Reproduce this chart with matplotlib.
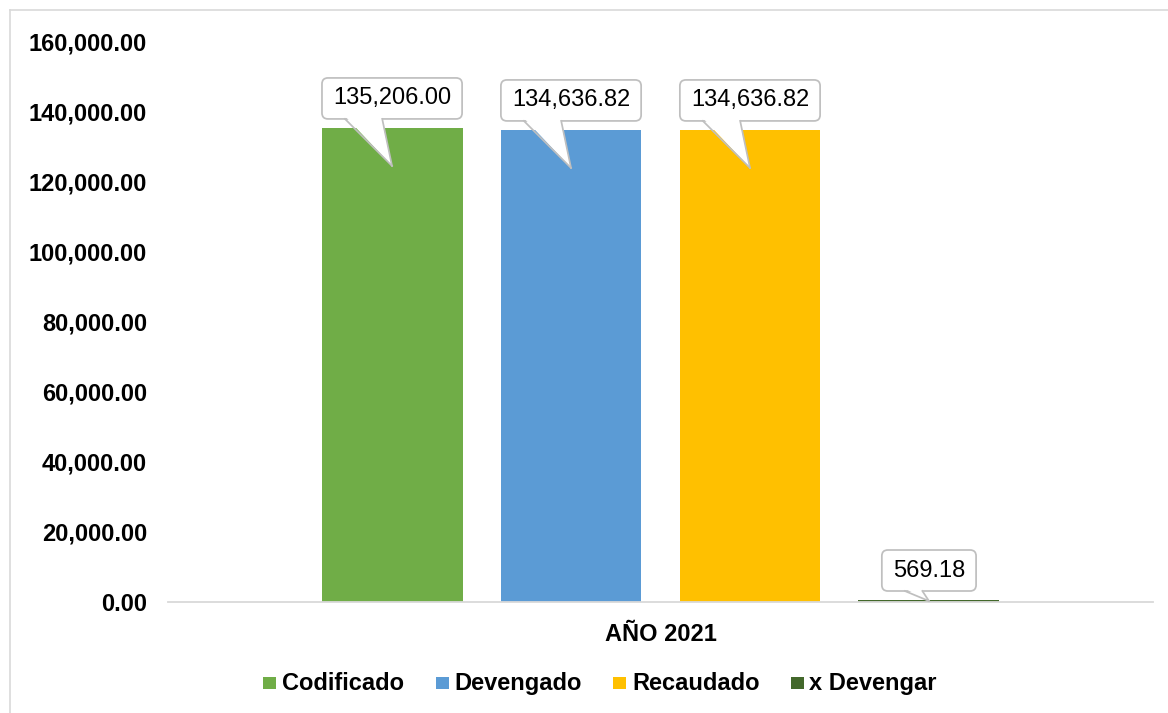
import matplotlib
matplotlib.use("Agg")
import matplotlib.pyplot as plt
from matplotlib.patches import FancyBboxPatch, Polygon, Rectangle
from matplotlib.transforms import IdentityTransform
from matplotlib.lines import Line2D
from matplotlib.ticker import FuncFormatter

categories = ["AÑO 2021"]
series = ["Codificado", "Devengado", "Recaudado", "x Devengar"]
values = [135206.00, 134636.82, 134636.82, 569.18]
colors = ["#70AD47", "#5B9BD5", "#FFC000", "#43682B"]
yticks = [0, 20000, 40000, 60000, 80000, 100000, 120000, 140000, 160000]

plt.rcParams['font.family'] = ['Liberation Sans', 'DejaVu Sans']

W, H = 1168, 713
fig = plt.figure(figsize=(W / 100, H / 100), dpi=100)
ax = fig.add_axes([168 / W, 1 - 602 / H, (1153 - 168) / W, (602 - 41) / H])

bw = 0.1431
step = 0.1817
xs = [(i - 1.5) * step for i in range(len(series))]
for x, v, c, s in zip(xs, values, colors, series):
    ax.bar(x, v, width=bw, color=c, label=s, zorder=2)

ax.set_xlim(-0.5, 0.5)
ax.set_ylim(0, 160000)
ax.set_yticks(yticks)
ax.yaxis.set_major_formatter(FuncFormatter(lambda v, p: f"{v:,.2f}"))
ax.set_xticks([0])
ax.set_xticklabels(categories)
for sp in ["top", "right", "left"]:
    ax.spines[sp].set_visible(False)
ax.spines["bottom"].set_color("#D9D9D9")
ax.spines["bottom"].set_linewidth(1.3)
ax.spines["bottom"].set_zorder(3)
ax.tick_params(axis="y", length=0, pad=15, labelsize=17)
ax.tick_params(axis="x", length=0, pad=15, labelsize=17)
for lbl in ax.get_yticklabels() + ax.get_xticklabels():
    lbl.set_fontweight("bold")
    lbl.set_color("black")

# legend (manual placement to match reference)
sq_left = [263, 436, 613, 791]
txt_left = [282, 454, 632, 809]
baseline = H - 690
for sl, tl, c, s in zip(sq_left, txt_left, colors, series):
    fig.add_artist(Rectangle((sl, baseline + 1), 13, 12, transform=IdentityTransform(),
                             facecolor=c, edgecolor="none"))
    fig.text(tl / W, baseline / H, s, ha="left", va="baseline", fontsize=17,
             fontweight="bold", color="black")

# outer chart border (top and left visible)
fig.add_artist(Line2D([10, W + 5], [H - 10, H - 10], transform=IdentityTransform(),
                      color="#D9D9D9", lw=1.2))
fig.add_artist(Line2D([10, 10], [-5, H - 10], transform=IdentityTransform(),
                      color="#D9D9D9", lw=1.2))

fig.canvas.draw()
renderer = fig.canvas.get_renderer()
base_y = ax.transData.transform((0, 0))[1]
edge = "#BFBFBF"
for x, v in zip(xs, values):
    cx, top = ax.transData.transform((x, v))
    bottom = top + 9
    bh = 41
    t = ax.text(cx, bottom + bh / 2, f"{v:,.2f}", transform=IdentityTransform(),
                ha="center", va="center", fontsize=17, color="black", zorder=7,
                clip_on=False)
    tw = t.get_window_extent(renderer).width
    w = tw + 22
    left = cx - w / 2
    box = FancyBboxPatch((left, bottom), w, bh, boxstyle="round,pad=0,rounding_size=6",
                         transform=IdentityTransform(), facecolor="white",
                         edgecolor=edge, lw=1.25, zorder=4, clip_on=False)
    ax.add_artist(box)
    bl = left + 23
    br = left + 0.43 * w
    tip_y = max(top - 38, base_y + 1)
    tri = Polygon([(bl + 0.8, bottom + 2), (br - 0.8, bottom + 2), (cx, tip_y)],
                  closed=True, transform=IdentityTransform(), facecolor="white",
                  edgecolor="none", zorder=5, clip_on=False)
    ax.add_artist(tri)
    for bx in (bl, br):
        ax.add_artist(Line2D([bx, cx], [bottom, tip_y], transform=IdentityTransform(),
                             color=edge, lw=1.25, zorder=6, clip_on=False))

fig.savefig("out.png", dpi=100, facecolor="white")
